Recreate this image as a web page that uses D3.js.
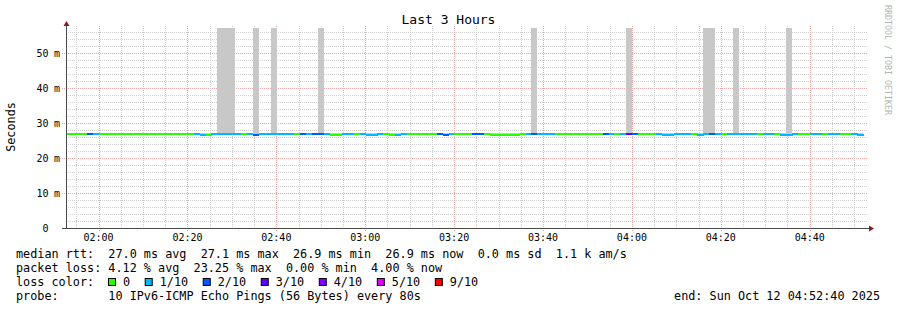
<!DOCTYPE html>
<html>
<head>
<meta charset="utf-8">
<script src="https://cdn.jsdelivr.net/npm/d3@7"></script>
<style>
  body { margin: 0; background: #fff; }
  text { font-family: "DejaVu Sans Mono", monospace; white-space: pre; }
</style>
</head>
<body>
<script>
// one value per 80 s probe step, first step starts 01:52:04
const stepSeconds = 80;
const firstStep = new Date(2025, 9, 12, 1, 52, 4);
const rangeStart = new Date(2025, 9, 12, 1, 52, 40);
const rangeEnd = new Date(2025, 9, 12, 4, 52, 40);

// lost pings (out of 10) per step
const loss = [
  0, 0, 0, 0, 2, 1, 0, 0, 0, 0,
  0, 0, 0, 0, 0, 0, 0, 0, 0, 0,
  0, 0, 1, 1, 0, 1, 1, 1, 1, 1,
  0, 1, 2, 1, 1, 1, 1, 1, 1, 0,
  2, 1, 2, 2, 1, 0, 0, 1, 1, 0,
  1, 1, 1, 1, 0, 0, 1, 1, 0, 0,
  0, 0, 0, 2, 2, 1, 0, 0, 0, 2,
  2, 0, 0, 0, 0, 0, 0, 0, 1, 2,
  1, 1, 1, 0, 0, 0, 0, 0, 0, 0,
  0, 2, 1, 0, 1, 3, 2, 0, 0, 0,
  1, 1, 1, 1, 1, 1, 0, 1, 1, 2,
  1, 0, 1, 1, 1, 1, 1, 0, 1, 1,
  0, 1, 1, 1, 0, 0, 1, 1, 0, 1,
  1, 0, 0, 1, 1
];

// median rtt (ms) per step
const median = [
  27.0, 27.0, 27.0, 27.0, 27.0, 27.0, 27.0, 27.0, 27.0, 27.0,
  27.0, 27.0, 27.0, 27.0, 27.0, 27.0, 27.0, 27.0, 27.0, 27.0,
  27.0, 27.0, 27.0, 26.7, 26.7, 27.0, 27.0, 27.0, 27.0, 27.0,
  27.0, 27.0, 26.7, 27.0, 27.0, 27.0, 27.0, 27.0, 27.0, 27.0,
  27.0, 27.0, 27.0, 27.0, 27.0, 26.7, 26.7, 27.0, 27.0, 27.0,
  27.0, 26.7, 26.7, 27.0, 27.0, 26.7, 26.7, 27.0, 27.0, 27.0,
  27.0, 27.0, 27.0, 27.0, 26.7, 27.0, 27.0, 27.0, 27.0, 27.0,
  27.0, 27.0, 26.7, 26.7, 26.7, 26.7, 26.7, 27.0, 27.0, 27.0,
  27.0, 27.0, 27.0, 27.0, 27.0, 27.0, 27.0, 27.0, 27.0, 27.0,
  27.0, 27.0, 27.0, 27.0, 27.0, 27.0, 27.0, 27.0, 27.0, 27.0,
  27.0, 26.7, 26.7, 27.0, 27.0, 27.0, 27.0, 26.7, 27.0, 27.0,
  27.0, 27.0, 27.0, 27.0, 27.0, 27.0, 27.0, 27.0, 27.0, 27.0,
  27.0, 26.7, 26.7, 27.0, 27.0, 27.0, 27.0, 27.0, 27.0, 27.0,
  27.0, 27.0, 27.0, 27.0, 26.7
];

// slowest ping (ms) per step, the smoke top
const maxRtt = [
  27.2, 27.2, 27.2, 27.2, 27.2, 27.2, 27.2, 27.2, 27.2, 27.2,
  27.2, 27.2, 27.2, 27.2, 27.2, 27.2, 27.2, 27.2, 27.2, 27.2,
  27.2, 27.2, 27.2, 27.2, 27.2, 27.2, 95.0, 95.0, 95.0, 27.2,
  27.2, 27.2, 95.0, 27.2, 27.2, 95.0, 27.2, 27.2, 27.2, 27.2,
  27.2, 27.2, 27.2, 95.0, 27.2, 27.2, 27.2, 27.2, 27.2, 27.2,
  27.2, 27.2, 27.2, 27.2, 27.2, 27.2, 27.2, 27.2, 27.2, 27.2,
  27.2, 27.2, 27.2, 27.2, 27.2, 27.2, 27.2, 27.2, 27.2, 27.2,
  27.2, 27.2, 27.2, 27.2, 27.2, 27.2, 27.2, 27.2, 27.2, 95.0,
  27.2, 27.2, 27.2, 27.2, 27.2, 27.2, 27.2, 27.2, 27.2, 27.2,
  27.2, 27.2, 27.2, 27.2, 27.2, 95.0, 27.2, 27.2, 27.2, 27.2,
  27.2, 27.2, 27.2, 27.2, 27.2, 27.2, 27.2, 27.2, 95.0, 95.0,
  27.2, 27.2, 27.2, 95.0, 27.2, 27.2, 27.2, 27.2, 27.2, 27.2,
  27.2, 27.2, 95.0, 27.2, 27.2, 27.2, 27.2, 27.2, 27.2, 27.2,
  27.2, 27.2, 27.2, 27.2, 27.2
];

const yTicks = [0, 10, 20, 30, 40, 50];
const lossLabels = ['0', '1/10', '2/10', '3/10', '4/10', '5/10', '9/10'];
const lossColors = ['#26ff00', '#00b8ff', '#0059ff', '#5e00ff', '#7e00ff', '#dd00ff', '#ff0000'];

const titleText = 'Last 3 Hours';
const yLabel = 'Seconds';
const legendLines = [
  'median rtt:  27.0 ms avg  27.1 ms max  26.9 ms min  26.9 ms now  0.0 ms sd  1.1 k am/s',
  'packet loss: 4.12 % avg  23.25 % max  0.00 % min  4.00 % now'
];
const probeText = 'probe:       10 IPv6-ICMP Echo Pings (56 Bytes) every 80s';
const endText = 'end: Sun Oct 12 04:52:40 2025';

(function() {
  var w = 897;
  var h = 310;
  var left = 66;
  var right = 866;
  var top = 28;
  var bottom = 228;

  var svg = d3
    .select('body')
    .append('svg')
    .attr('width', w)
    .attr('height', h);

  var x = d3.scaleTime().domain([rangeStart, rangeEnd]).range([left, right]);
  // 35 px per 10 ms
  var y = d3.scaleLinear().domain([0, (bottom - top) / 3.5]).range([bottom, top]);

  var minorGrid = '#cfcfcf';
  var majorGrid = '#eba3a3';

  // horizontal grid
  var hLines = d3.range(2, y.domain()[1], 2);
  svg
    .append('g')
    .selectAll('line')
    .data(hLines)
    .enter()
    .append('line')
    .attr('x1', d => (d % 10 === 0 ? left - 4 : left))
    .attr('x2', right + 2)
    .attr('y1', d => Math.round(y(d)) + 0.5)
    .attr('y2', d => Math.round(y(d)) + 0.5)
    .attr('stroke', d => (d % 10 === 0 ? majorGrid : minorGrid))
    .attr('stroke-dasharray', '1,1');

  // vertical grid, every 5 minutes
  var vTimes = d3.timeMinute.every(5).range(rangeStart, rangeEnd);
  var isMajor = t => t.getMinutes() % 20 === 0;
  svg
    .append('g')
    .selectAll('line')
    .data(vTimes)
    .enter()
    .append('line')
    .attr('x1', d => Math.round(x(d)) + 0.5)
    .attr('x2', d => Math.round(x(d)) + 0.5)
    .attr('y1', top - 2)
    .attr('y2', d => (isMajor(d) ? bottom + 3 : bottom + 2))
    .attr('stroke', d => (isMajor(d) ? majorGrid : minorGrid))
    .attr('stroke-dasharray', '1,1');

  svg
    .append('clipPath')
    .attr('id', 'plot')
    .append('rect')
    .attr('x', left)
    .attr('y', top)
    .attr('width', right - left)
    .attr('height', bottom - top);

  var steps = loss.map((l, i) => {
    var t0 = new Date(+firstStep + i * stepSeconds * 1000);
    var t1 = new Date(+t0 + stepSeconds * 1000);
    return { t0: t0, t1: t1, loss: l, median: median[i], max: maxRtt[i] };
  });

  var plot = svg.append('g').attr('clip-path', 'url(#plot)');

  // smoke
  plot
    .selectAll('rect.smoke')
    .data(steps)
    .enter()
    .append('rect')
    .attr('class', 'smoke')
    .attr('x', d => x(d.t0))
    .attr('width', d => x(d.t1) - x(d.t0))
    .attr('y', d => y(d.max))
    .attr('height', d => Math.max(0, y(d.median) - y(d.max)))
    .attr('fill', '#c8c8c8')
    .attr('shape-rendering', 'crispEdges');

  var colorFor = l => lossColors[l <= 5 ? l : 6];

  // median coloured by loss
  plot
    .selectAll('rect.median')
    .data(steps)
    .enter()
    .append('rect')
    .attr('class', 'median')
    .attr('x', d => x(d.t0))
    .attr('width', d => x(d.t1) - x(d.t0) + 0.3)
    .attr('y', d => Math.round(y(d.median)) - 1)
    .attr('height', 2)
    .attr('fill', d => colorFor(d.loss))
    .attr('shape-rendering', 'crispEdges');

  // axes
  var axisColor = '#4a4a4a';
  var arrowColor = '#8c1c1c';
  svg
    .append('line')
    .attr('x1', left + 0.5)
    .attr('x2', left + 0.5)
    .attr('y1', top - 2)
    .attr('y2', bottom + 0.5)
    .attr('stroke', axisColor);
  svg
    .append('line')
    .attr('x1', left - 4)
    .attr('x2', right + 3)
    .attr('y1', bottom + 0.5)
    .attr('y2', bottom + 0.5)
    .attr('stroke', axisColor);
  svg
    .append('path')
    .attr('d', `M${left - 2.5},${top - 2}L${left + 3.5},${top - 2}L${left + 0.5},${top - 7}Z`)
    .attr('fill', arrowColor);
  svg
    .append('path')
    .attr('d', `M${right + 3},${bottom - 2.5}L${right + 3},${bottom + 3.5}L${right + 8},${bottom + 0.5}Z`)
    .attr('fill', arrowColor);

  // y labels
  var yl = svg.append('g').attr('font-size', '10px').attr('fill', '#000');
  yl.selectAll('text.num')
    .data(yTicks)
    .enter()
    .append('text')
    .attr('class', 'num')
    .attr('x', 48.5)
    .attr('y', d => Math.round(y(d)) + 4)
    .attr('text-anchor', 'end')
    .text(d => d);
  yl.selectAll('text.unit')
    .data(yTicks.filter(d => d > 0))
    .enter()
    .append('text')
    .attr('class', 'unit')
    .attr('x', 54)
    .attr('y', d => Math.round(y(d)) + 4)
    .text('m');

  // x labels
  svg
    .append('g')
    .attr('font-size', '10px')
    .selectAll('text')
    .data(vTimes.filter(isMajor))
    .enter()
    .append('text')
    .attr('x', d => x(d))
    .attr('y', 241)
    .attr('text-anchor', 'middle')
    .text(d3.timeFormat('%H:%M'));

  // title and side labels
  svg
    .append('text')
    .attr('x', w / 2)
    .attr('y', 24)
    .attr('text-anchor', 'middle')
    .attr('font-size', '13px')
    .text(titleText);

  svg
    .append('text')
    .attr('transform', 'translate(15,127) rotate(-90)')
    .attr('text-anchor', 'middle')
    .attr('font-size', '11.8px')
    .text(yLabel);

  svg
    .append('text')
    .attr('transform', 'translate(885,5) rotate(90)')
    .attr('font-size', '8.3px')
    .attr('fill', '#b4b4b4')
    .text('RRDTOOL / TOBI OETIKER');

  // legend
  var lg = svg.append('g').attr('font-size', '11.8px').attr('fill', '#000');
  lg.selectAll('text.line')
    .data(legendLines)
    .enter()
    .append('text')
    .attr('class', 'line')
    .attr('x', 16)
    .attr('y', (d, i) => 258 + i * 14)
    .text(d => d);

  lg.append('text').attr('x', 16).attr('y', 286).text('loss color:');

  var sx = 108;
  lossLabels.forEach((label, i) => {
    lg.append('rect')
      .attr('x', sx + 0.5)
      .attr('y', 278.5)
      .attr('width', 7)
      .attr('height', 7)
      .attr('fill', lossColors[i])
      .attr('stroke', '#000');
    var t = lg.append('text').attr('x', sx + 15).attr('y', 286).text(label);
    sx = sx + 15 + t.node().getComputedTextLength() + 14.6;
  });

  lg.append('text').attr('x', 16).attr('y', 300).text(probeText);
  lg.append('text').attr('x', 880).attr('y', 300).attr('text-anchor', 'end').text(endText);
})();
</script>
</body>
</html>
